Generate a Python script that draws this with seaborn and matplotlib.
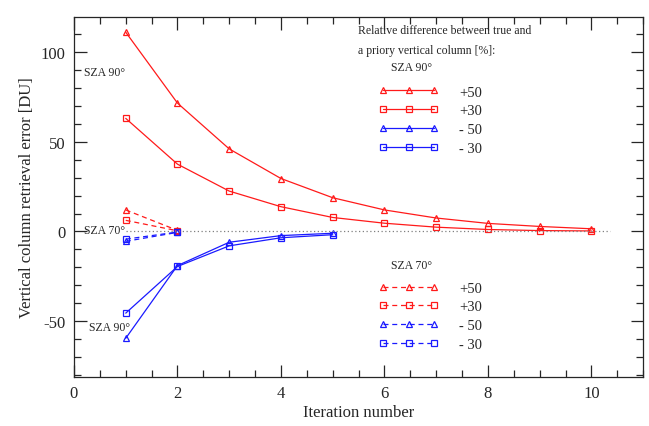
import numpy as np
import pandas as pd
import seaborn as sns
import matplotlib.pyplot as plt
from matplotlib.lines import Line2D
from matplotlib.legend_handler import HandlerLine2D
from matplotlib.ticker import MultipleLocator

# Retrieval error [DU] vs iteration
iter_90 = [1, 2, 3, 4, 5, 6, 7, 8, 9, 10]
sza90_p50 = [111, 71.5, 46, 29.5, 18.8, 12, 7.5, 4.5, 2.8, 1.5]
sza90_p30 = [63, 37.5, 22.5, 13.8, 7.8, 4.6, 2.4, 1.1, 0.5, 0.3]
iter_90_neg = [1, 2, 3, 4, 5]
sza90_m50 = [-59.5, -19, -6, -2.3, -1.0]
sza90_m30 = [-45.5, -19.5, -8, -3.5, -1.8]

iter_70 = [1, 2]
sza70_p50 = [12, 0.6]
sza70_p30 = [6.2, 0.4]
sza70_m50 = [-5.5, -0.5]
sza70_m30 = [-4.3, -0.3]

labels = ['+50', '+30', '- 50', '- 30']
RED = '#ff1a1a'
BLUE = '#1a1aff'

sns.set_style('ticks')
plt.rcParams['font.family'] = 'serif'
plt.rcParams['font.serif'] = ['Liberation Serif', 'DejaVu Serif']
plt.rcParams['axes.unicode_minus'] = False

fig = plt.figure(figsize=(6.49, 4.27), dpi=100)
ax = fig.add_axes([0.114, 0.115, 0.877, 0.843])

def draw(x, y, color, marker, ls):
    sns.lineplot(x=x, y=y, ax=ax, color=color, marker=marker, linestyle=ls,
                 markerfacecolor='none', markeredgecolor=color,
                 markeredgewidth=0.9, markersize=5, linewidth=0.9)
    return ax.get_lines()[-1]

dash = (0, (4, 3))
h90 = [draw(iter_90, sza90_p50, RED, '^', '-'),
       draw(iter_90, sza90_p30, RED, 's', '-'),
       draw(iter_90_neg, sza90_m50, BLUE, '^', '-'),
       draw(iter_90_neg, sza90_m30, BLUE, 's', '-')]
h70 = [draw(iter_70, sza70_p50, RED, '^', dash),
       draw(iter_70, sza70_p30, RED, 's', dash),
       draw(iter_70, sza70_m50, BLUE, '^', dash),
       draw(iter_70, sza70_m30, BLUE, 's', dash)]

ax.hlines(0, 1.0, 10.35, colors='gray', linestyles=(0, (1, 2)), linewidth=0.9)

ax.set_xlim(0, 11)
ax.set_ylim(-81, 119.5)
ax.xaxis.set_major_locator(MultipleLocator(2))
ax.xaxis.set_minor_locator(MultipleLocator(0.5))
ax.yaxis.set_major_locator(MultipleLocator(50))
ax.yaxis.set_minor_locator(MultipleLocator(10))
ax.tick_params(which='both', direction='in', top=True, right=True, labelsize=12,
               width=0.9)
ax.tick_params(which='major', length=9, pad=6)
ax.tick_params(which='minor', length=5)
for s in ax.spines.values():
    s.set_linewidth(0.9)
    s.set_visible(True)

ax.set_xlabel('Iteration number', fontsize=12, labelpad=2)
ax.set_ylabel('Vertical column retrieval error [DU]', fontsize=12, labelpad=4)

ax.text(0.19, 89, 'SZA 90°', fontsize=8.5, va='center')
ax.text(0.19, 1, 'SZA 70°', fontsize=8.5, va='center')
ax.text(0.29, -53, 'SZA 90°', fontsize=8.5, va='center')

ax.text(5.48, 112, 'Relative difference between true and', fontsize=8.5, va='center')
ax.text(5.48, 101, 'a priory vertical column [%]:', fontsize=8.5, va='center')
ax.text(6.12, 91.5, 'SZA 90°', fontsize=8.5, va='center')
ax.text(6.12, -18.5, 'SZA 70°', fontsize=8.5, va='center')

hmap = {Line2D: HandlerLine2D(marker_pad=0, numpoints=3)}
leg_kw = dict(loc='upper left', frameon=False, fontsize=10.5, handlelength=3.5,
              handletextpad=1.7, labelspacing=0.38, borderpad=0, borderaxespad=0,
              handler_map=hmap)
leg1 = ax.legend(h90, labels, bbox_to_anchor=(0.543, 0.81), **leg_kw)
ax.add_artist(leg1)
ax.legend(h70, labels, bbox_to_anchor=(0.543, 0.265), **leg_kw)

fig.savefig('out.png', dpi=100)
